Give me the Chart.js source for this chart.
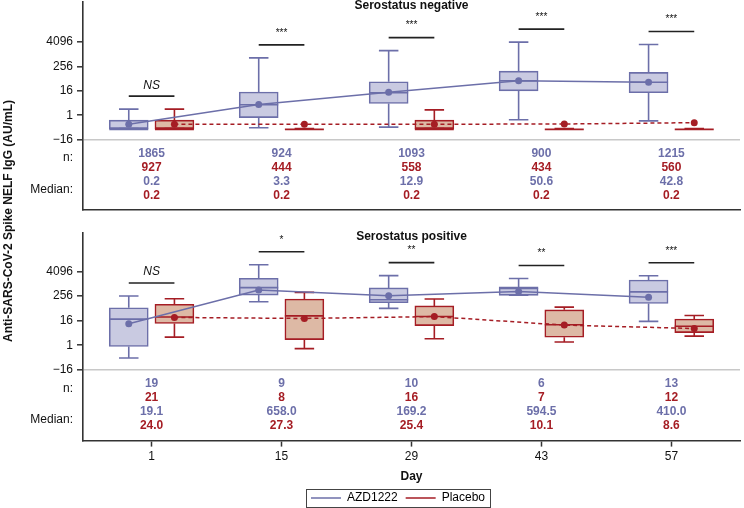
<!DOCTYPE html>
<html>
<head>
<meta charset="utf-8">
<script src="https://cdn.jsdelivr.net/npm/chart.js@4.4.1/dist/chart.umd.min.js"></script>
<style>
  html, body { margin: 0; padding: 0; background: #fff; }
  #wrap { position: relative; width: 744px; height: 508px; overflow: hidden; }
  #neg { position: absolute; left: 0; top: -2px; width: 744px; height: 216px; }
  #pos { position: absolute; left: 0; top: 216px; width: 744px; height: 292px; }
  #ytitle {
    position: absolute; left: 8px; top: 221px;
    transform: translate(-50%, -50%) rotate(-90deg);
    white-space: nowrap; color: #111;
    font: bold 12px 'Liberation Sans', Arial, sans-serif;
  }
</style>
</head>
<body>
<div id="wrap">
  <canvas id="neg" width="744" height="216"></canvas>
  <canvas id="pos" width="744" height="292"></canvas>
  <div id="ytitle">Anti-SARS-CoV-2 Spike NELF IgG (AU/mL)</div>
</div>
<script>
// Box plots of antibody titres by day, two serostatus panels

const days = [1, 15, 29, 43, 57];
const yTickValues = [4096, 256, 16, 1];

// Serostatus negative (AU/mL)
const negAzdN = [1865, 924, 1093, 900, 1215];
const negPboN = [927, 444, 558, 434, 560];
const negAzdMin = [0.22, 0.24, 0.26, 0.6, 0.53];
const negAzdQ1 = [0.22, 0.77, 3.8, 16, 13];
const negAzdMedian = [0.2, 3.3, 12.9, 50.6, 42.8];
const negAzdQ3 = [0.57, 14, 45, 150, 130];
const negAzdMax = [2, 680, 1550, 4100, 3100];
const negAzdMean = [0.36, 3.4, 13.5, 51, 43];
const negPboMin = [0.22, 0.22, 0.22, 0.22, 0.22];
const negPboQ1 = [0.22, 0.22, 0.22, 0.22, 0.22];
const negPboMedian = [0.2, 0.2, 0.2, 0.2, 0.2];
const negPboQ3 = [0.57, 0.22, 0.57, 0.22, 0.22];
const negPboMax = [2, 0.22, 1.85, 0.22, 0.22];
const negPboMean = [0.36, 0.36, 0.36, 0.37, 0.43];
const negSig = ['NS', '***', '***', '***', '***'];

// Serostatus positive (AU/mL)
const posAzdN = [19, 9, 10, 6, 13];
const posPboN = [21, 8, 16, 7, 12];
const posAzdMin = [0.24, 135, 64, 278, 14.7];
const posAzdQ1 = [0.87, 286, 121, 278, 111];
const posAzdMedian = [19.1, 658.0, 169.2, 594.5, 410.0];
const posAzdQ3 = [68, 1880, 640, 713, 1550];
const posAzdMax = [256, 8660, 2560, 1844, 2500];
const posAzdMean = [11.2, 507, 262, 432, 223];
const posPboMin = [2.5, 0.69, 2.1, 1.45, 2.8];
const posPboQ1 = [11.6, 1.9, 9.2, 2.5, 4.2];
const posPboMedian = [24.0, 27.3, 25.4, 10.1, 8.6];
const posPboQ3 = [102, 184, 84, 54, 19.4];
const posPboMax = [189, 389, 184, 73.5, 28.6];
const posPboMean = [23, 20.5, 25.4, 9.7, 6.6];
const posSig = ['NS', '*', '**', '**', '***'];

const AZD_LINE = '#6c6fa9';
const AZD_FILL = '#c9cae1';
const PBO_LINE = '#a51d24';
const PBO_FILL = '#ddb9a5';
const FONT = "'Liberation Sans', Arial, sans-serif";
const SHIFT = 2.46;   // days each group sits left/right of its tick
const BOX_W = 39;

const lg = v => Math.log(v) / Math.log(16);

function boxStats(min, q1, med, q3, max) {
  return { min, q1, med, q3, max };
}

// whiskers and median line, drawn right after each box dataset
const boxExtras = {
  id: 'boxExtras',
  afterDatasetDraw(chart, args) {
    const ds = chart.data.datasets[args.index];
    if (!ds.stats) return;
    const { ctx, scales: { x, y } } = chart;
    const s = ds.stats;
    const half = BOX_W / 2;
    ctx.save();
    ctx.strokeStyle = ds.borderColor;
    ctx.lineWidth = 1.6;
    ctx.beginPath();
    days.forEach((d, i) => {
      const px = x.getPixelForValue(d + ds.shift);
      const yMin = y.getPixelForValue(lg(s.min[i]));
      const yQ1 = y.getPixelForValue(lg(s.q1[i]));
      const yQ3 = y.getPixelForValue(lg(s.q3[i]));
      const yMax = y.getPixelForValue(lg(s.max[i]));
      const yMed = y.getPixelForValue(lg(s.med[i]));
      ctx.moveTo(px, yQ3); ctx.lineTo(px, yMax);
      ctx.moveTo(px - half / 2, yMax); ctx.lineTo(px + half / 2, yMax);
      ctx.moveTo(px, yQ1); ctx.lineTo(px, yMin);
      ctx.moveTo(px - half / 2, yMin); ctx.lineTo(px + half / 2, yMin);
      ctx.moveTo(px - half, yMed); ctx.lineTo(px + half, yMed);
    });
    ctx.stroke();
    ctx.restore();
  }
};

// panel title, significance bars and the n / median table
const panelText = {
  id: 'panelText',
  afterDraw(chart, args, opts) {
    const { ctx, chartArea, scales: { x, y } } = chart;
    ctx.save();
    ctx.textAlign = 'center';
    ctx.textBaseline = 'middle';
    ctx.fillStyle = '#111';
    ctx.font = 'bold 12px ' + FONT;
    const midX = (chartArea.left + Math.min(chartArea.right, chart.width)) / 2;
    ctx.fillText(opts.title, midX, chartArea.top + 3.5);

    days.forEach((d, i) => {
      const x1 = x.getPixelForValue(d - SHIFT);
      const x2 = x.getPixelForValue(d + SHIFT);
      const top = Math.min(y.getPixelForValue(lg(opts.azdMax[i])), y.getPixelForValue(lg(opts.pboMax[i])));
      const yl = top - 13;
      ctx.strokeStyle = '#222';
      ctx.lineWidth = 1.6;
      ctx.beginPath();
      ctx.moveTo(x1, yl); ctx.lineTo(x2, yl);
      ctx.stroke();
      const lab = opts.sig[i];
      ctx.font = lab === 'NS' ? 'italic 12px ' + FONT : '10px ' + FONT;
      ctx.fillStyle = '#111';
      ctx.fillText(lab, (x1 + x2) / 2, lab === 'NS' ? yl - 11 : yl - 12);
    });

    const base = y.getPixelForValue(-1);
    const rows = [
      [opts.azdN.map(String), AZD_LINE],
      [opts.pboN.map(String), PBO_LINE],
      [opts.azdMed.map(v => v.toFixed(1)), AZD_LINE],
      [opts.pboMed.map(v => v.toFixed(1)), PBO_LINE]
    ];
    ctx.font = 'bold 12px ' + FONT;
    rows.forEach((row, r) => {
      ctx.fillStyle = row[1];
      days.forEach((d, i) => {
        ctx.fillText(row[0][i], x.getPixelForValue(d), base + 14 + r * 14);
      });
    });
    ctx.textAlign = 'right';
    ctx.fillStyle = '#111';
    ctx.font = '12px ' + FONT;
    ctx.fillText('n:', chartArea.left - 10, base + 18.5);
    ctx.fillText('Median:', chartArea.left - 10, base + 50);
    ctx.restore();
  }
};

// frame around the legend
const legendFrame = {
  id: 'legendFrame',
  afterDraw(chart) {
    const leg = chart.legend;
    if (!leg || !leg.options.display || !leg.legendHitBoxes || !leg.legendHitBoxes.length) return;
    const boxes = leg.legendHitBoxes;
    const l = Math.min(...boxes.map(b => b.left)) - 5;
    const r = Math.max(...boxes.map(b => b.left + b.width)) + 5;
    const cy = boxes[0].top + boxes[0].height / 2;
    const ctx = chart.ctx;
    ctx.save();
    ctx.strokeStyle = '#444';
    ctx.lineWidth = 1;
    ctx.strokeRect(Math.round(l) + 0.5, Math.round(cy - 9) + 0.5, Math.round(r - l), 18);
    ctx.restore();
  }
};

function makePanel(canvasId, p) {
  const boxData = (q1, q3, shift) =>
    days.map((d, i) => ({ x: d + shift, y: [lg(q1[i]), lg(q3[i])] }));
  const meanData = (mean, shift) =>
    days.map((d, i) => ({ x: d + shift, y: lg(mean[i]) }));

  const datasets = [
    {
      type: 'line', label: 'AZD1222', order: 0,
      data: meanData(p.azdMean, -SHIFT),
      borderColor: AZD_LINE, backgroundColor: AZD_LINE, borderWidth: 1.5,
      pointRadius: 3.5, pointBackgroundColor: AZD_LINE, pointBorderWidth: 0
    },
    {
      type: 'line', label: 'Placebo', order: 0,
      data: meanData(p.pboMean, SHIFT),
      borderColor: PBO_LINE, backgroundColor: PBO_LINE, borderWidth: 1.5, borderDash: [4, 3],
      pointRadius: 3.5, pointBackgroundColor: PBO_LINE, pointBorderWidth: 0
    },
    {
      type: 'bar', label: 'AZD1222 box', order: 1, grouped: false,
      data: boxData(p.azd.q1, p.azd.q3, -SHIFT),
      backgroundColor: AZD_FILL, borderColor: AZD_LINE, borderWidth: 1.6,
      borderSkipped: false, barThickness: BOX_W,
      stats: p.azd, shift: -SHIFT
    },
    {
      type: 'bar', label: 'Placebo box', order: 1, grouped: false,
      data: boxData(p.pbo.q1, p.pbo.q3, SHIFT),
      backgroundColor: PBO_FILL, borderColor: PBO_LINE, borderWidth: 1.6,
      borderSkipped: false, barThickness: BOX_W,
      stats: p.pbo, shift: SHIFT
    }
  ];

  new Chart(document.getElementById(canvasId), {
    data: { datasets },
    options: {
      responsive: false,
      animation: false,
      events: [],
      layout: { padding: p.padding },
      scales: {
        x: {
          type: 'linear', min: -6.39, max: 64.39, offset: false,
          afterBuildTicks: s => { s.ticks = days.map(v => ({ value: v })); },
          afterFit: s => { if (!p.showX) s.height = 0; },
          grid: {
            offset: false, drawOnChartArea: false, drawTicks: p.showX,
            tickLength: 6, tickColor: '#333', tickWidth: 1.5
          },
          border: { color: '#333', width: 1.6 },
          ticks: { display: p.showX, padding: 3, color: '#111', font: { size: 12, family: FONT } },
          title: {
            display: p.showX, text: 'Day', color: '#111',
            font: { size: 12, weight: 'bold', family: FONT }, padding: { top: 2.6, bottom: 0 }
          }
        },
        y: {
          type: 'linear', min: p.yMin, max: p.yMax,
          afterBuildTicks: s => { s.ticks = [-1].concat(yTickValues.map(lg)).map(v => ({ value: v })); },
          afterFit: s => { s.width = 83; s.paddingTop = 0; s.paddingBottom = 0; },
          grid: {
            drawOnChartArea: true, tickLength: 6, tickColor: '#333', tickWidth: 1.5,
            color: c => (c.tick && Math.abs(c.tick.value + 1) < 1e-6 ? '#c8c8c8' : 'rgba(0,0,0,0)'),
            lineWidth: 1.6
          },
          border: { color: '#333', width: 1.6 },
          ticks: {
            padding: 4, color: '#111', font: { size: 12, family: FONT },
            callback: v => (Math.abs(v + 1) < 1e-6 ? '\u221216' : String(Math.round(Math.pow(16, v))))
          }
        }
      },
      plugins: {
        tooltip: { enabled: false },
        legend: {
          display: p.showX,
          position: 'bottom',
          labels: {
            usePointStyle: true, pointStyleWidth: 30, padding: 8,
            color: '#111', font: { size: 12, family: FONT },
            generateLabels: chart => chart.data.datasets
              .filter(d => d.type === 'line')
              .map((d, i) => ({
                text: d.label, strokeStyle: d.borderColor, fillStyle: d.borderColor,
                lineWidth: 1.5, lineDash: [], pointStyle: 'line', datasetIndex: i, hidden: false
              }))
          }
        },
        panelText: {
          title: p.title, sig: p.sig,
          azdMax: p.azd.max, pboMax: p.pbo.max,
          azdN: p.azdN, pboN: p.pboN, azdMed: p.azd.med, pboMed: p.pbo.med
        }
      }
    },
    plugins: [boxExtras, panelText, legendFrame]
  });
}

makePanel('neg', {
  title: 'Serostatus negative', showX: false, sig: negSig,
  yMin: -3.886, yMax: 4.645,
  padding: { top: 1, right: 0, bottom: 0, left: 0 },
  azd: boxStats(negAzdMin, negAzdQ1, negAzdMedian, negAzdQ3, negAzdMax),
  pbo: boxStats(negPboMin, negPboQ1, negPboMedian, negPboQ3, negPboMax),
  azdMean: negAzdMean, pboMean: negPboMean, azdN: negAzdN, pboN: negPboN
});

makePanel('pos', {
  title: 'Serostatus positive', showX: true, sig: posSig,
  yMin: -3.87, yMax: 4.56,
  padding: { top: 17, right: -52, bottom: -6, left: 0 },
  azd: boxStats(posAzdMin, posAzdQ1, posAzdMedian, posAzdQ3, posAzdMax),
  pbo: boxStats(posPboMin, posPboQ1, posPboMedian, posPboQ3, posPboMax),
  azdMean: posAzdMean, pboMean: posPboMean, azdN: posAzdN, pboN: posPboN
});
</script>
</body>
</html>
